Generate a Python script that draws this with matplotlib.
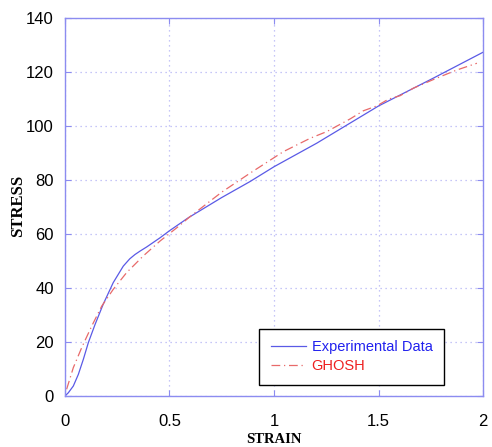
import numpy as np
import matplotlib.pyplot as plt

exp_strain = [0.0, 0.016, 0.04, 0.064, 0.088, 0.112, 0.144, 0.183, 0.231, 0.279, 0.31,
              0.335, 0.36, 0.391, 0.455, 0.5, 0.59, 0.75, 0.885, 1.0, 1.204, 1.5, 1.762, 2.0]
exp_stress = [0.0, 1.2, 3.7, 8.0, 13.6, 19.8, 26.5, 34.0, 42.0, 48.1, 50.8,
              52.4, 53.7, 55.2, 58.6, 61.2, 66.0, 73.5, 79.4, 84.9, 93.6, 107.4, 117.7, 127.3]

# GHOSH model
gh_strain = [0.008, 0.02, 0.04, 0.08, 0.128, 0.176, 0.231, 0.295, 0.375, 0.455, 0.535,
             0.598, 0.75, 0.885, 1.045, 1.172, 1.252, 1.364, 1.427, 1.491, 1.547,
             1.603, 1.667, 1.778, 1.874, 1.97]
gh_stress = [2.5, 5.5, 10.5, 17.9, 25.9, 33.3, 39.5, 45.7, 51.9, 57.4, 62.3,
             66.4, 75.5, 82.5, 90.5, 95.4, 97.9, 102.6, 105.6, 107.4, 109.9,
             111.2, 114.0, 117.7, 120.7, 123.2]

edge = '#8c8cf0'

fig = plt.figure(figsize=(4.92, 4.47), dpi=100)
ax = fig.add_axes([0.132, 0.114, 0.85, 0.846])

ax.plot(exp_strain, exp_stress, color='#5a5ae6', lw=0.9, label='Experimental Data')
ax.plot(gh_strain, gh_stress, color='#e86a6a', lw=0.9, linestyle=(0, (7, 3, 1, 3)), label='GHOSH')

ax.set_xlim(0, 2)
ax.set_ylim(0, 140)
ax.set_xticks([0, 0.5, 1, 1.5, 2])
ax.set_xticklabels(['0', '0.5', '1', '1.5', '2'])
ax.set_yticks(range(0, 141, 20))

ax.grid(True, color='#b4b4f5', linestyle=(0, (1, 3)), lw=0.9)
for s in ax.spines.values():
    s.set_color(edge)
    s.set_linewidth(1.0)
ax.tick_params(direction='in', color=edge, length=4, top=True, right=True, labelsize=12)
ax.tick_params(axis='x', pad=13)
ax.tick_params(axis='y', pad=8)
for lab in ax.get_xticklabels() + ax.get_yticklabels():
    lab.set_family('Liberation Sans')

ax.set_xlabel('STRAIN', family='Liberation Serif', fontweight='bold', fontsize=10.5)
ax.set_ylabel('STRESS', family='Liberation Serif', fontweight='bold', fontsize=12)
ax.xaxis.set_label_coords(0.499, -0.098)
ax.yaxis.set_label_coords(-0.094, 0.503)

leg = ax.legend(loc='lower right', bbox_to_anchor=(0.907, 0.029), borderaxespad=0,
                fancybox=False, framealpha=1, edgecolor='black',
                prop={'family': 'Liberation Sans', 'size': 10.5},
                handlelength=2.4, handletextpad=0.4, borderpad=0.8, labelspacing=0.35)
leg.get_frame().set_linewidth(1.0)
leg.get_texts()[0].set_color('#2020ee')
leg.get_texts()[1].set_color('#ee2020')

fig.savefig('out.png', dpi=100)
